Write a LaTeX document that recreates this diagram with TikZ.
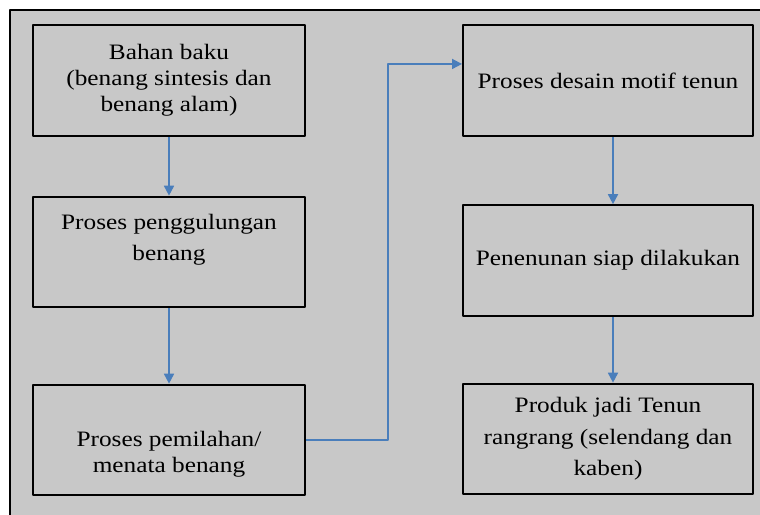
\documentclass[tikz,border=0pt]{standalone}
\usepackage{fontspec}
\setmainfont{Liberation Serif}[FakeStretch=1.15]
\usetikzlibrary{arrows.meta}
\definecolor{flowblue}{RGB}{74,126,187}
\definecolor{panelgray}{RGB}{200,200,200}
\tikzset{
  stepbox/.style={draw=black, line width=1.5pt, align=center, inner sep=0pt, font=\fontsize{16.5}{19.5}\selectfont},
  leftbox/.style={stepbox, minimum width=204pt, minimum height=83pt},
  rightbox/.style={stepbox, minimum width=217.5pt, minimum height=83pt},
  flow/.style={draw=flowblue, line width=1.3pt, -{Triangle[width=7.5pt,length=7.5pt]}},
}
\begin{document}
\begin{tikzpicture}[x=0.75pt, y=-0.75pt, line join=round]
	\useasboundingbox (0,0) rectangle (760,514);
	\draw[fill=panelgray, line width=1.5pt] (10,10) rectangle (790,540);
	% kolom kiri
	\node[leftbox] (baku) at (169,80.5) {Bahan baku\\(benang sintesis dan\\benang alam)};
	\node[leftbox] (gulung) at (169,252) {Proses penggulungan\\[4pt]benang\\[-3pt]\strut};
	\node[leftbox] (pilah) at (169,440) {\strut\\Proses pemilahan/\\menata benang};
	% kolom kanan
	\node[rightbox] (desain) at (608,80.5) {Proses desain motif tenun};
	\node[rightbox] (tenun) at (608,260.5) {Penenunan siap dilakukan};
	\node[rightbox] (produk) at (608,439) {Produk jadi Tenun\\[4pt]rangrang (selendang dan\\[4pt]kaben)};
	% panah
	\draw[flow] (baku.south) -- (gulung.north);
	\draw[flow] (gulung.south) -- (pilah.north);
	\draw[flow] (pilah.east) -- ++(82,0) |- ([yshift=12.4pt]desain.west);
	\draw[flow] ([xshift=3.75pt]desain.south) -- ([xshift=3.75pt]tenun.north);
	\draw[flow] ([xshift=3.75pt]tenun.south) -- ([xshift=3.75pt]produk.north);
\end{tikzpicture}
\end{document}
